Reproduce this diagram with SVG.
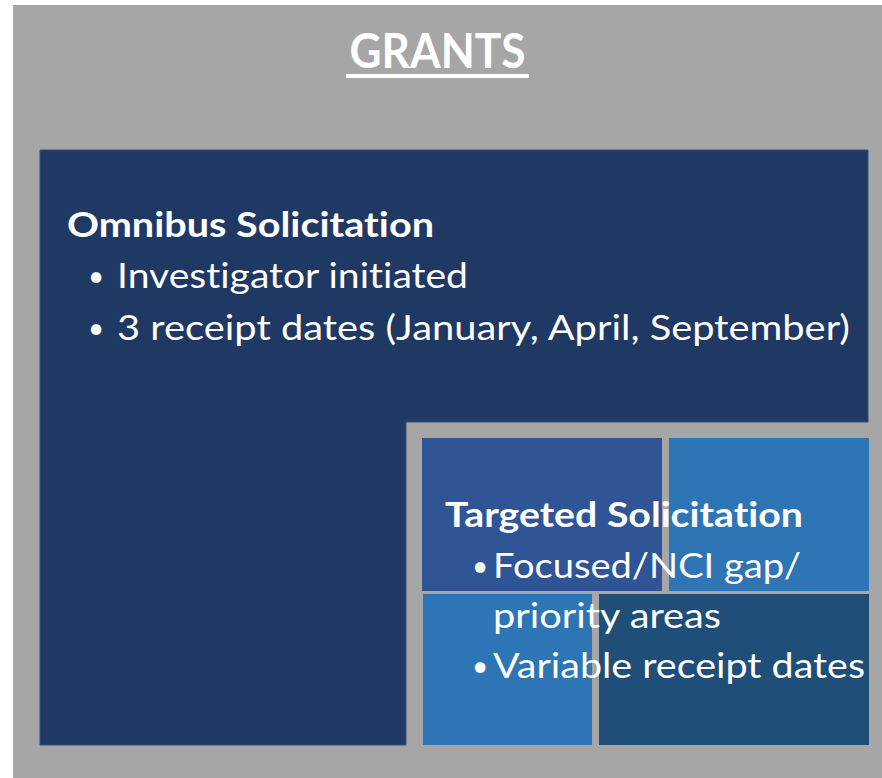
<svg xmlns="http://www.w3.org/2000/svg" width="882" height="778" viewBox="0 0 882 778">
<style>
.t{font-family:Lato,"Open Sans","Liberation Sans",sans-serif;fill:#FFFFFF;font-variant-ligatures:none;font-feature-settings:"liga" 0,"clig" 0}
.h{font-weight:bold;font-size:35px}
.b{font-size:34px}
.d{font-size:28px}
</style>
<rect x="0" y="0" width="882" height="778" fill="#FFFFFF"/>
<g id="background">
<rect x="13" y="5" width="869" height="773" fill="#A6A6A6"/>
</g>
<g id="title">
<text class="t" x="437.5" y="68" font-size="48" font-weight="bold" text-anchor="middle" textLength="176" lengthAdjust="spacingAndGlyphs">GRANTS</text>
<rect x="346" y="74" width="183" height="4" fill="#FFFFFF"/>
</g>
<g id="omnibus">
<path d="M40,150 H868 V422 H406 V745 H40 Z" fill="#203864" stroke="#34507E" stroke-width="1"/>
</g>
<g id="blocks">
<rect id="block-tl" x="422" y="438" width="240" height="153" fill="#2F5597"/>
<rect id="block-tr" x="669" y="438" width="200" height="153" fill="#2E75B6"/>
<rect id="block-bl" x="423" y="594" width="169" height="151" fill="#2E75B6"/>
<rect id="block-br" x="599" y="594" width="270" height="151" fill="#1F4E79"/>
</g>
<g id="omnibus-text">
<text class="t h" x="67" y="237" textLength="367" lengthAdjust="spacingAndGlyphs">Omnibus Solicitation</text>
<text class="t d" x="88" y="286">•</text>
<text class="t b" x="117" y="288" textLength="351" lengthAdjust="spacingAndGlyphs">Investigator initiated</text>
<text class="t d" x="88" y="338">•</text>
<text class="t b" x="117" y="340" textLength="733" lengthAdjust="spacingAndGlyphs">3 receipt dates (January, April, September)</text>
</g>
<g id="targeted-text">
<text class="t h" x="445" y="527" textLength="358" lengthAdjust="spacingAndGlyphs">Targeted Solicitation</text>
<text class="t d" x="472" y="576">•</text>
<text class="t b" x="493" y="578" textLength="308" lengthAdjust="spacingAndGlyphs">Focused/NCI gap/</text>
<text class="t b" x="493" y="628" textLength="228" lengthAdjust="spacingAndGlyphs">priority areas</text>
<text class="t d" x="472" y="676">•</text>
<text class="t b" x="493" y="678" textLength="372" lengthAdjust="spacingAndGlyphs">Variable receipt dates</text>
</g>
</svg>
